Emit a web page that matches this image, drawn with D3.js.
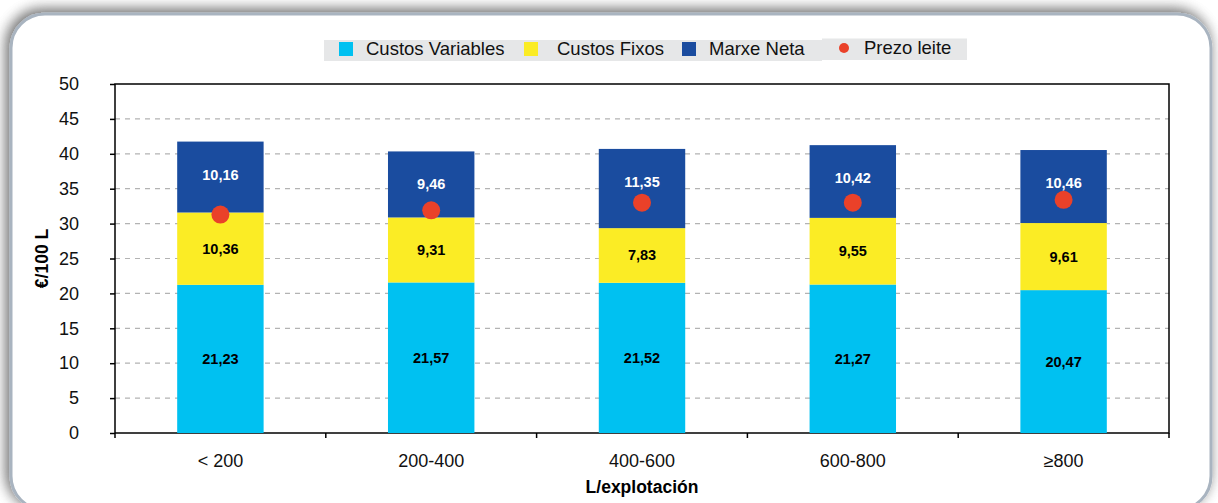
<!DOCTYPE html>
<html>
<meta charset="utf-8">
<script src="https://d3js.org/d3.v7.min.js"></script>
<style>
body { margin: 0; background: #fff; }
text { font-family: "Liberation Sans", Arial, sans-serif; }
</style>
<body>
<script>

var categories = ["< 200", "200-400", "400-600", "600-800", "\u2265800"];
var variables = [21.23, 21.57, 21.52, 21.27, 20.47];
var fixos = [10.36, 9.31, 7.83, 9.55, 9.61];
var marxe = [10.16, 9.46, 11.35, 10.42, 10.46];
var prezo = [31.3, 31.9, 33.0, 33.0, 33.4];
var yTicks = [0, 5, 10, 15, 20, 25, 30, 35, 40, 45, 50];
var seriesNames = ["Custos Variables", "Custos Fixos", "Marxe Neta", "Prezo leite"];
var colors = ["#00c1f1", "#fbec25", "#1a4c9f", "#ea4129"];

var W = 1218, H = 503;
var margin = {top: 84, left: 115, right: 49, bottom: 70};

var svg = d3.select("body").append("svg")
  .attr("width", W)
  .attr("height", H);

// frame with soft shadow
var defs = svg.append("defs");
var f = defs.append("filter").attr("id", "sh").attr("x", "-5%").attr("y", "-5%").attr("width", "110%").attr("height", "110%");
f.append("feGaussianBlur").attr("in", "SourceAlpha").attr("stdDeviation", 7);
f.append("feOffset").attr("dx", -3).attr("dy", -3);
f.append("feComponentTransfer").append("feFuncA").attr("type", "linear").attr("slope", 0.35);
f.append("feComposite").attr("result", "b").attr("operator", "over");
var fm = f.append("feMerge");
fm.append("feMergeNode").attr("in", "b");
fm.append("feMergeNode").attr("in", "SourceGraphic");

svg.append("rect")
  .attr("x", 11).attr("y", 14)
  .attr("width", 1200).attr("height", 496)
  .attr("rx", 34)
  .attr("fill", "#fff")
  .attr("stroke", "#a9b4c0")
  .attr("stroke-width", 3)
  .attr("filter", "url(#sh)");

var x = d3.scaleBand()
  .domain(categories)
  .range([margin.left, W - margin.right])
  .paddingInner(0.59)
  .paddingOuter(0.295);

var y = d3.scaleLinear()
  .domain([0, 50])
  .range([H - margin.bottom, margin.top]);

// gridlines
svg.append("g").selectAll("line")
  .data(yTicks.filter(function(d){ return d > 0 && d < 50; }))
  .enter().append("line")
  .attr("x1", margin.left).attr("x2", W - margin.right)
  .attr("y1", function(d){ return y(d); })
  .attr("y2", function(d){ return y(d); })
  .attr("stroke", "#b3b3b3")
  .attr("stroke-width", 1.2)
  .attr("stroke-dasharray", "5,5");

// plot border
svg.append("rect")
  .attr("x", margin.left).attr("y", margin.top)
  .attr("width", W - margin.right - margin.left)
  .attr("height", H - margin.bottom - margin.top)
  .attr("fill", "none")
  .attr("stroke", "#000")
  .attr("stroke-width", 1.5);

// stacked bars
var rows = categories.map(function(c, i) {
  return {cat: c, v: variables[i], f: fixos[i], m: marxe[i]};
});
var stack = d3.stack().keys(["v", "f", "m"])(rows);

var groups = svg.append("g").selectAll("g")
  .data(stack)
  .enter().append("g")
  .attr("fill", function(d, i){ return colors[i]; });

groups.selectAll("rect")
  .data(function(d){ return d; })
  .enter().append("rect")
  .attr("x", function(d){ return x(d.data.cat); })
  .attr("y", function(d){ return y(d[1]); })
  .attr("height", function(d){ return y(d[0]) - y(d[1]); })
  .attr("width", x.bandwidth());

// labels (top segment label sits near the top so it clears the dot)
stack.forEach(function(s, k) {
  svg.append("g").selectAll("text")
    .data(s)
    .enter().append("text")
    .attr("x", function(d){ return x(d.data.cat) + x.bandwidth() / 2; })
    .attr("y", function(d){
      return (k == 2 ? y(d[1]) + 33 : y((d[0] + d[1]) / 2)) + 5;
    })
    .attr("text-anchor", "middle")
    .attr("font-size", 14.5)
    .attr("font-weight", "bold")
    .attr("fill", k == 2 ? "#fff" : "#000")
    .text(function(d){ return d3.format(".2f")(d[1] - d[0]).replace(".", ","); });
});

// price dots
svg.append("g").selectAll("circle")
  .data(prezo)
  .enter().append("circle")
  .attr("cx", function(d, i){ return x(categories[i]) + x.bandwidth() / 2; })
  .attr("cy", function(d){ return y(d); })
  .attr("r", 9)
  .attr("fill", colors[3]);

// axes
var yAx = d3.axisLeft(y).tickValues(yTicks).tickSize(5).tickPadding(31);
var yG = svg.append("g")
  .attr("transform", "translate(" + margin.left + ",0)")
  .call(yAx);
yG.select(".domain").remove();
yG.selectAll("line").attr("stroke", "#000").attr("stroke-width", 1.5);
yG.selectAll("text").attr("font-size", 18).attr("fill", "#111")
  .style("font-family", "Liberation Sans, Arial, sans-serif");

var bounds = categories.map(function(c){ return x(c) - x.step() * 0.295; });
bounds.push(W - margin.right);
svg.append("g").selectAll("line")
  .data(bounds)
  .enter().append("line")
  .attr("x1", function(d){ return d; }).attr("x2", function(d){ return d; })
  .attr("y1", H - margin.bottom).attr("y2", H - margin.bottom + 5)
  .attr("stroke", "#000").attr("stroke-width", 1.5);

svg.append("g").selectAll("text")
  .data(categories)
  .enter().append("text")
  .attr("x", function(d){ return x(d) + x.bandwidth() / 2; })
  .attr("y", 467)
  .attr("text-anchor", "middle")
  .attr("font-size", 18)
  .attr("fill", "#111")
  .text(function(d){ return d; });

svg.append("text")
  .attr("x", (margin.left + W - margin.right) / 2)
  .attr("y", 493)
  .attr("text-anchor", "middle")
  .attr("font-size", 17.5)
  .attr("font-weight", "bold")
  .text("L/explotación");

svg.append("text")
  .attr("transform", "translate(48," + y(25) + ") rotate(-90)")
  .attr("text-anchor", "middle")
  .attr("font-size", 17.5)
  .attr("font-weight", "bold")
  .text("€/100 L");

// legend
var lg = svg.append("g");
lg.append("rect").attr("x", 324).attr("y", 40).attr("width", 498).attr("height", 21).attr("fill", "#e6e7e8");
lg.append("rect").attr("x", 822).attr("y", 38.5).attr("width", 145).attr("height", 21.5).attr("fill", "#e6e7e8");
var lx = [339, 524, 682, 839];
var tx = [366, 557, 709, 864];
seriesNames.forEach(function(n, i) {
  if (i < 3) {
    lg.append("rect").attr("x", lx[i]).attr("y", 42).attr("width", 14).attr("height", 14).attr("fill", colors[i]);
  } else {
    lg.append("circle").attr("cx", lx[i] + 5).attr("cy", 48).attr("r", 5).attr("fill", colors[i]);
  }
  lg.append("text").attr("x", tx[i]).attr("y", i < 3 ? 55 : 53.5)
    .attr("font-size", 18.5).attr("fill", "#111").text(n);
});

</script>
</body>
</html>
